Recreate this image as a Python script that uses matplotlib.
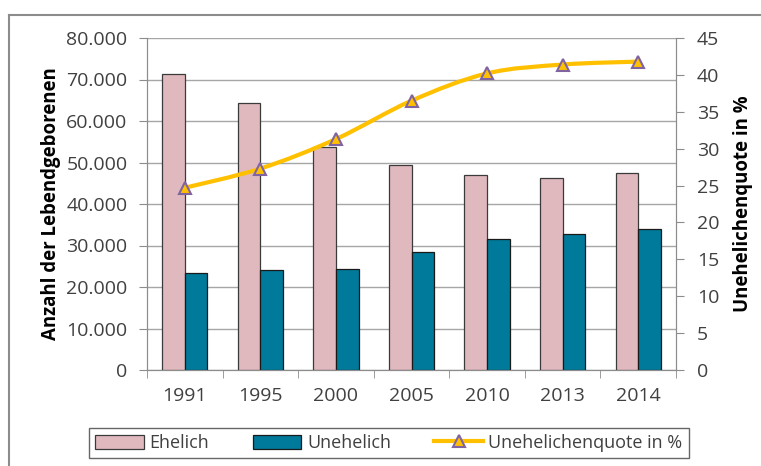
import matplotlib
matplotlib.use("Agg")
import matplotlib.pyplot as plt
from matplotlib.lines import Line2D
from matplotlib.path import Path
from matplotlib.patches import PathPatch
import numpy as np

years = ["1991", "1995", "2000", "2005", "2010", "2013", "2014"]
ehelich = [71400, 64400, 53700, 49500, 47000, 46300, 47500]
unehelich = [23450, 24100, 24350, 28500, 31500, 32800, 33900]
quote = [24.7, 27.3, 31.3, 36.5, 40.2, 41.4, 41.8]

plt.rcParams['font.family'] = ['Open Sans', 'DejaVu Sans']

W, H = 761, 466
fig = plt.figure(figsize=(W / 100, H / 100), dpi=100)
ax = fig.add_axes([147 / W, 1 - 370 / H, (676 - 147) / W, (370 - 38) / H])

x = np.arange(len(years))
bw = 0.3
pink = "#E0B9BF"
teal = "#007A9A"
b1 = ax.bar(x - bw / 2, ehelich, bw, color=pink, edgecolor="#3a3a3a", linewidth=0.9, label="Ehelich", zorder=3)
b2 = ax.bar(x + bw / 2, unehelich, bw, color=teal, edgecolor="#1a1a1a", linewidth=0.9, label="Unehelich", zorder=3)

TICK_FS = 14
ax.set_xlim(-0.5, len(years) - 0.5)
ax.set_ylim(0, 80000)
ax.set_yticks(np.arange(0, 80001, 10000))
ax.set_yticklabels(["0" if v == 0 else f"{v // 1000}.000" for v in range(0, 80001, 10000)])
ax.set_xticks(x)
ax.set_xticklabels(years)
ax.set_xticks(np.arange(-0.5, len(years), 1), minor=True)
ax.tick_params(axis='x', which='major', length=0, pad=12, labelsize=TICK_FS, colors="#404040")
ax.tick_params(axis='x', which='minor', length=6, color="#8c8c8c", direction='out')
ax.tick_params(axis='y', length=6, color="#8c8c8c", labelsize=TICK_FS, labelcolor="#404040", pad=8)
ax.grid(axis='y', color="#a6a6a6", linewidth=1.0, zorder=0)
ax.set_axisbelow(True)
ax.spines["top"].set_visible(False)
for s in ["left", "right", "bottom"]:
    ax.spines[s].set_color("#8c8c8c")
ax.set_ylabel("Anzahl der Lebendgeborenen", fontsize=13.4, fontweight='bold', color="black", labelpad=4)

ax2 = ax.twinx()
ax2.set_ylim(0, 45)
ax2.set_yticks(np.arange(0, 46, 5))
ax2.tick_params(axis='y', length=6, color="#8c8c8c", labelsize=TICK_FS, labelcolor="#404040", pad=9)
ax2.spines["top"].set_visible(False)
for s in ["left", "right", "bottom"]:
    ax2.spines[s].set_color("#8c8c8c")

# smoothed line (Catmull-Rom -> cubic Bezier) through the data points
P = np.column_stack([x, quote]).astype(float)
n = len(P)
verts = [tuple(P[0])]
codes = [Path.MOVETO]
for i in range(n - 1):
    p0 = P[i - 1] if i > 0 else P[i]
    p1 = P[i]
    p2 = P[i + 1]
    p3 = P[i + 2] if i + 2 < n else P[i + 1]
    c1 = p1 + (p2 - p0) / 6.0
    c2 = p2 - (p3 - p1) / 6.0
    verts += [tuple(c1), tuple(c2), tuple(p2)]
    codes += [Path.CURVE4] * 3
line_color = "#FFC000"
ax2.add_patch(PathPatch(Path(verts, codes), facecolor="none", edgecolor=line_color,
                        linewidth=3, capstyle='round', joinstyle='round', zorder=4))
ax2.plot(x, quote, linestyle="none", marker="^", markersize=8,
         markerfacecolor=line_color, markeredgecolor="#8064A2", markeredgewidth=1.5, zorder=5)
ax2.set_ylabel("Unehelichenquote in %", fontsize=13.4, fontweight='bold', color="black", labelpad=10)

ln = Line2D([], [], color=line_color, linewidth=3, marker="^", markersize=8,
            markerfacecolor=line_color, markeredgecolor="#8064A2", markeredgewidth=1.5)
leg = fig.legend([b1, b2, ln], ["Ehelich", "Unehelich", "Unehelichenquote in %"],
                 loc="center", bbox_to_anchor=(389 / W, 1 - 443 / H), ncol=3,
                 frameon=True, fancybox=False, edgecolor="#404040", fontsize=13,
                 handlelength=2.7, handleheight=0.8, columnspacing=2.4, handletextpad=0.3,
                 borderpad=0.35, labelcolor="#404040")
leg.get_frame().set_linewidth(1.0)

# outer frame (top and left visible)
fig.add_artist(Line2D([9 / W, 9 / W], [0, 1 - 15 / H], transform=fig.transFigure, color="#8c8c8c", linewidth=1.5))
fig.add_artist(Line2D([9 / W, 1], [1 - 15 / H, 1 - 15 / H], transform=fig.transFigure, color="#8c8c8c", linewidth=1.5))

fig.savefig("out.png", dpi=100)
